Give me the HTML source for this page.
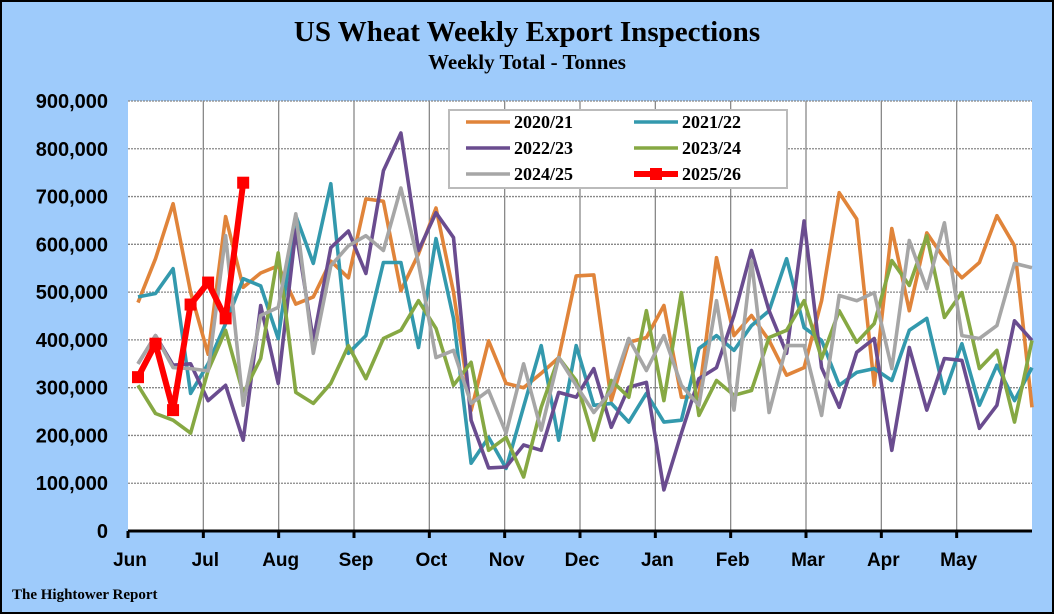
<!DOCTYPE html>
<html><head><meta charset="utf-8"><style>
body{margin:0;width:1054px;height:614px;overflow:hidden;background:#9cf}
svg{display:block}
</style></head><body>
<svg width="1054" height="614" xmlns="http://www.w3.org/2000/svg">
<rect x="1" y="1" width="1052" height="612" fill="#9ecbfb" stroke="#000" stroke-width="2"/>
<text x="527" y="41" text-anchor="middle" font-family="Liberation Serif, serif" font-weight="bold" font-size="29">US Wheat Weekly Export Inspections</text>
<text x="527" y="69" text-anchor="middle" font-family="Liberation Serif, serif" font-weight="bold" font-size="21">Weekly Total - Tonnes</text>
<rect x="128" y="101" width="904" height="430" fill="#fff"/>
<g id="grid"></g>
<g id="series"></g>
<g id="axes"></g>
<g>
<rect x="449" y="110" width="338" height="78" fill="#fff" stroke="#bbb" stroke-width="2"/>
<g id="legend"></g>
</g>
<text x="12" y="599" font-family="Liberation Serif, serif" font-weight="bold" font-size="15">The Hightower Report</text>
</svg>
<script>
const yTicks=[0,100000,200000,300000,400000,500000,600000,700000,800000,900000];
const months=["Jun","Jul","Aug","Sep","Oct","Nov","Dec","Jan","Feb","Mar","Apr","May"];
const seriesNames=["2020/21","2021/22","2022/23","2023/24","2024/25","2025/26"];
const s2020=[478,570,685,500,370,658,510,540,555,475,490,565,530,695,690,503,580,676,500,252,398,309,300,330,363,534,536,273,395,405,472,280,282,572,409,451,399,326,342,482,708,653,305,633,461,624,570,530,562,660,597,259];
const s2021=[490,497,549,288,350,434,528,513,403,660,560,727,372,409,562,562,384,612,445,142,196,131,260,388,190,388,263,267,228,288,228,232,382,409,378,430,461,570,426,399,305,332,340,315,420,445,288,392,263,347,273,342];
const s2022=[350,409,347,350,273,305,190,472,309,630,399,593,628,539,754,833,587,666,614,232,132,134,180,169,290,280,340,217,301,311,86,205,319,342,451,587,461,372,649,342,259,374,403,169,384,253,361,357,215,263,440,399];
const s2023=[305,246,232,205,336,420,288,361,582,290,267,309,388,319,403,420,482,424,305,353,169,196,113,259,363,315,190,315,280,461,273,499,242,315,284,294,405,420,482,361,461,395,434,566,514,618,447,499,340,378,228,399];
const s2024=[350,409,342,340,335,618,263,451,468,664,372,555,597,618,587,718,560,363,378,267,294,205,350,211,363,305,248,294,403,336,409,305,263,482,253,566,248,388,388,242,493,482,499,340,608,507,645,409,403,430,560,551];
const s2025=[322,392,253,474,520,445,729];
const colors=["#e0843a","#3399ad","#6a4c8f","#86a843","#a6a6a6","#ff0000"];
const X0=128,X1=1032,Y0=531,Y1=101,YMAX=900000;
const weeks=52;
function xW(i){return 138+i*(1032-138)/(weeks-1);}
function yV(v){return Y0-(v/YMAX)*(Y0-Y1);}
const NS="http://www.w3.org/2000/svg";
function mk(t,a,p){const e=document.createElementNS(NS,t);for(const k in a)e.setAttribute(k,a[k]);p.appendChild(e);return e;}
const grid=document.getElementById('grid'),axes=document.getElementById('axes'),ser=document.getElementById('series'),leg=document.getElementById('legend');
yTicks.forEach((t,i)=>{
  if(t>0){const l=mk('line',{x1:X0,x2:X1,y1:yV(t),y2:yV(t),stroke:'#888','stroke-width':1.3,'stroke-dasharray':'2,1'},grid);
  
  }
  const tx=mk('text',{x:108,y:yV(t)+7,'text-anchor':'end','font-family':'Liberation Sans, sans-serif','font-weight':'bold','font-size':20},axes);
  tx.textContent=t.toLocaleString('en-US');
  
  
});
const monthW=(X1-X0)/12;
months.forEach((m,i)=>{
  const x=X0+i*monthW;
  if(i>0){const l=mk('line',{x1:x,x2:x,y1:Y1,y2:Y0,stroke:'#888','stroke-width':1.3},grid);
  
  }
  const tk=mk('line',{x1:x,x2:x,y1:Y0,y2:Y0+7,stroke:'#000','stroke-width':3},axes);
  
  
  const tx=mk('text',{x:x+2,y:566,'text-anchor':'middle','font-family':'Liberation Sans, sans-serif','font-weight':'bold','font-size':19},axes);
  tx.textContent=m;
  
  
});
const ax=mk('line',{x1:X0,x2:X1,y1:Y0,y2:Y0,stroke:'#000','stroke-width':3},axes);


const all=[s2020,s2021,s2022,s2023,s2024,s2025];
all.forEach((d,k)=>{
  const pts=d.map((v,i)=>xW(i).toFixed(1)+','+yV(v*1000).toFixed(1)).join(' ');
  const p=mk('polyline',{points:pts,fill:'none',stroke:colors[k],'stroke-width':k==5?6:3.6,'stroke-linejoin':'round'},ser);
  
  
  if(k==5){d.forEach((v,i)=>{const r=mk('rect',{x:xW(i)-6,y:yV(v*1000)-6,width:12,height:12,fill:colors[k]},ser);
    
    });}
});
seriesNames.forEach((n,k)=>{
  const col=k%2,row=Math.floor(k/2);
  const lx=466+col*168,ly=122+row*26;
  const l=mk('line',{x1:lx,x2:lx+44,y1:ly,y2:ly,stroke:colors[k],'stroke-width':k==5?6:3.6},leg);
  
  
  if(k==5){const r=mk('rect',{x:lx+16,y:ly-6,width:12,height:12,fill:colors[k]},leg);
  
  }
  const t=mk('text',{x:lx+48,y:ly+6,'font-family':'Liberation Serif, serif','font-weight':'bold','font-size':18},leg);
  t.textContent=n;
  
  
});
</script>
</body></html>
